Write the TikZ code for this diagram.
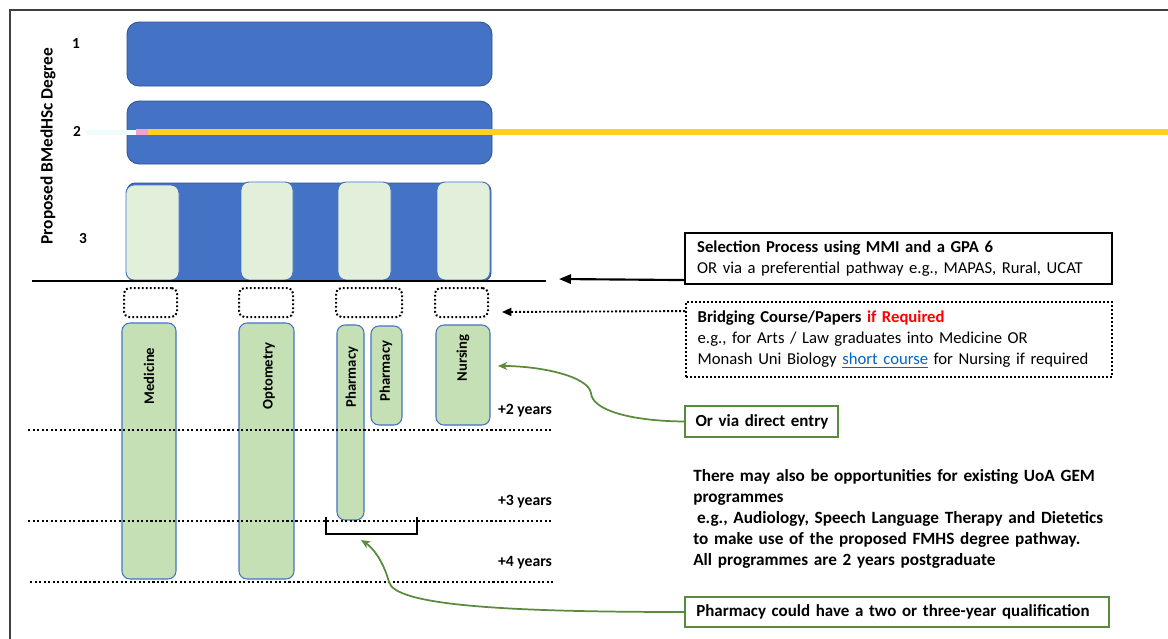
\documentclass[tikz,border=0pt]{standalone}
\usepackage{fontspec}
\setmainfont{Carlito}
\usetikzlibrary{fit,arrows.meta}
\definecolor{blu}{HTML}{4472C4}
\definecolor{bluedge}{HTML}{2F528F}
\definecolor{pale}{HTML}{E2EFDA}
\definecolor{grn}{HTML}{C5E0B4}
\definecolor{dgreen}{HTML}{5A8A3C}
\definecolor{gold}{HTML}{FFD022}
\definecolor{lnk}{HTML}{0563C1}
\definecolor{pinkish}{HTML}{F2A0DA}
\definecolor{cyanish}{HTML}{EEFCFD}
\tikzset{
  yearbox/.style={fill=blu, draw=bluedge, line width=0.6pt, rounded corners=9pt, inner sep=0pt},
  palebox/.style={fill=pale, draw=blu, line width=0.7pt, rounded corners=6pt, inner sep=0pt},
  progbox/.style={fill=grn, draw=blu, line width=0.8pt, rounded corners=6pt, inner sep=0pt},
  dotbox/.style={draw, line width=1.5pt, dash pattern=on 1.4pt off 1.6pt, rounded corners=4pt, inner sep=0pt},
  dotline/.style={line width=1.8pt, dash pattern=on 1.6pt off 1.8pt},
  proglabel/.style={rotate=90, font=\fontsize{11}{12}\selectfont\bfseries},
  yearlabel/.style={font=\fontsize{11.8}{13}\selectfont\bfseries},
  numlabel/.style={font=\fontsize{11.5}{13}\selectfont\bfseries},
  infobox/.style={align=left, font=\fontsize{12.5}{15.75}\selectfont, inner xsep=8.5pt, inner ysep=0pt},
  greenbox/.style={infobox, draw=dgreen, line width=1.5pt, font=\fontsize{12.7}{15.75}\selectfont},
  greenarrow/.style={draw=dgreen, line width=1.3pt, -{Stealth[length=7pt,width=6pt]}},
}
\begin{document}
\begin{tikzpicture}[x=0.75pt,y=-0.75pt]
\useasboundingbox (0,0) rectangle (1168,639);
\fill[white] (0,0) rectangle (1168,639);
% frame
\draw[line width=1.3pt, black!75] (10,639) -- (10,10) -- (1168,10);

% title and year numbers
\node[rotate=90, font=\fontsize{13}{15}\selectfont\bfseries] (title) at (48,146) {Proposed BMedHSc Degree};
\node[numlabel] (n1) at (76,44) {1};
\node[numlabel] (n2) at (77,131) {2};
\node[numlabel] (n3) at (83,239) {3};

% year boxes
\node[yearbox, fit={(127,22)(492,86)}] (y1) {};
\node[yearbox, fit={(127,101)(492,164)}] (y2) {};
\node[yearbox, rounded corners=6pt, fit={(127,183)(491,281)}] (y3) {};

% coloured strip across year 2
\fill[cyanish] (87,129.5) rectangle (136,134.5);
\fill[pinkish] (136,129) rectangle (148,135);
\fill[gold] (148,129) rectangle (1168,135);

% pale boxes in year 3
\node[palebox, fit={(126,185)(179,280)}] (p1) {};
\node[palebox, fit={(241,182)(293,280)}] (p2) {};
\node[palebox, fit={(338,182)(391,280)}] (p3) {};
\node[palebox, fit={(437,182)(490,280)}] (p4) {};

% selection line
\coordinate (selL) at (32,281);
\coordinate (selR) at (546,281);
\draw[line width=1.6pt] (selL) -- (selR);

% dotted bridging boxes
\node[dotbox, fit={(124,288)(177,317)}] (d1) {};
\node[dotbox, fit={(239,288)(293,317)}] (d2) {};
\node[dotbox, fit={(336,288)(402,317)}] (d3) {};
\node[dotbox, fit={(435,288)(488,317)}] (d4) {};

% programme boxes
\node[progbox, fit={(122,323)(176,579)}] (med) {};
\node[progbox, fit={(239,323)(294,579)}] (opt) {};
\node[progbox, fit={(337,325)(364,520)}] (ph3) {};
\node[progbox, fit={(371,326)(402,425)}] (ph2) {};
\node[progbox, fit={(436,325)(490,425)}] (nur) {};
\node[proglabel] (medl) at (149,376) {Medicine};
\node[proglabel] (optl) at (269,376) {Optometry};
\node[proglabel] (ph3l) at (352,377) {Pharmacy};
\node[proglabel] (ph2l) at (386,371) {Pharmacy};
\node[proglabel] (nurl) at (463,358) {Nursing};

% year lines
\draw[dotline] (28,430) -- (552,430);
\draw[dotline] (28,521) -- (552,521);
\draw[dotline] (30,582) -- (553,582);
\node[yearlabel] (plus2) at (525,411) {+2 years};
\node[yearlabel] (plus3) at (525,502) {+3 years};
\node[yearlabel] (plus4) at (525,563) {+4 years};

% bracket
\coordinate (brA) at (326,517);
\coordinate (brB) at (326,534);
\coordinate (brC) at (417,534);
\coordinate (brD) at (417,517);
\coordinate (brMid) at (361,540);
\draw[line width=2.2pt] (brA) -- (brB) -- (brC) -- (brD);

% info boxes
\node[infobox, draw, line width=1.6pt, minimum width=320.25pt, minimum height=38.25pt, text width=302pt] (sel) at (898.5,258.5)
  {\textbf{Selection Process using MMI and a GPA 6}\\OR via a preferential pathway e.g., MAPAS, Rural, UCAT};
\node[infobox, draw, line width=1.4pt, dash pattern=on 1.4pt off 1.6pt, minimum width=319.5pt, minimum height=56.25pt, text width=302pt] (bridge) at (899,339.5)
  {\textbf{Bridging Course/Papers \textcolor{red}{if Required}}\\e.g., for Arts / Law graduates into Medicine OR\\Monash Uni Biology \textcolor{lnk}{\underline{short course}} for Nursing if required};
\node[greenbox, minimum width=114.75pt, minimum height=23.25pt, text width=99pt, inner xsep=7.8pt] (direct) at (761.5,421.5) {\mbox{\textbf{Or via direct entry}}};
\node[infobox, anchor=north west, text width=330pt, font=\fontsize{12.9}{15.75}\selectfont\bfseries, inner xsep=0pt] (para) at (693,469)
  {There may also be opportunities for existing UoA GEM\\programmes\\\hspace{0.22em}e.g., Audiology, Speech Language Therapy and Dietetics\\to make use of the proposed FMHS degree pathway.\\All programmes are 2 years postgraduate};
\node[greenbox, minimum width=318pt, minimum height=22.5pt, text width=301pt] (pharm) at (897,612) {\textbf{Pharmacy could have a two or three-year qualification}};

% connectors
\coordinate (selTip) at (559,279);
\draw[line width=1.6pt, -{Triangle[length=9pt,width=7pt]}] ([yshift=3.75pt]sel.south west) -- (selTip);
\coordinate (bridgeTip) at (502,312);
\draw[line width=1.4pt, dash pattern=on 1.4pt off 1.6pt, -{Triangle[length=7pt,width=6pt]}] ([yshift=-7.5pt]bridge.north west) -- (bridgeTip);
\coordinate (nurTip) at (498,366);
\coordinate (bump) at (591,393);
\draw[greenarrow] (direct.west) .. controls (630,421) and (592,410) .. (bump) .. controls (588,376) and (540,366) .. (nurTip);
\coordinate (bend) at (389,582);
\draw[greenarrow] (pharm.west) .. controls (500,612) and (395,605) .. (bend) .. controls (383,560) and (372,547) .. (brMid);
\end{tikzpicture}
\end{document}
